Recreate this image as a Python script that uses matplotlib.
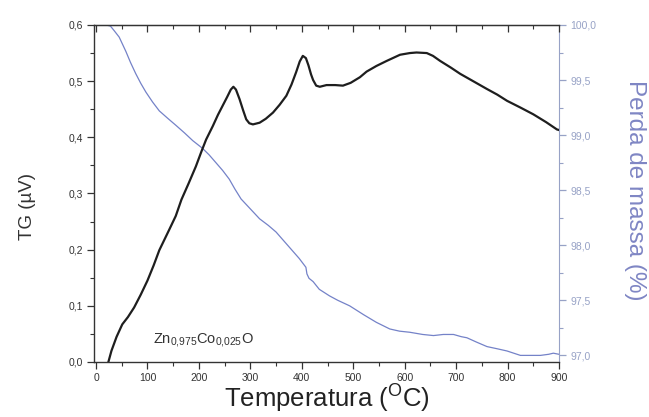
import matplotlib
matplotlib.use('Agg')
import matplotlib.pyplot as plt
from matplotlib.ticker import MultipleLocator, FuncFormatter

plt.rcParams['font.family'] = ['Liberation Sans', 'DejaVu Sans']
plt.rcParams['mathtext.fontset'] = 'custom'
plt.rcParams['mathtext.rm'] = 'Liberation Sans'
plt.rcParams['mathtext.it'] = 'Liberation Sans'

# sinal TG (uV) em funcao da temperatura
temp_tg = [24, 30, 40, 51, 62, 74, 87, 100, 112, 123, 142, 155, 166, 180, 194,
           205, 214, 227, 237, 246, 255, 262, 267, 272, 279, 286, 292, 298, 305,
           318, 330, 344, 357, 370, 380, 389, 396, 402, 408, 413, 418, 422, 428,
           435, 448, 465, 480, 495, 513, 526, 545, 565, 591, 610, 623, 643, 655,
           669, 690, 708, 735, 760, 780, 799, 825, 850, 875, 896, 900]
tg = [0.0, 0.02, 0.045, 0.067, 0.08, 0.097, 0.12, 0.145, 0.172, 0.199, 0.235,
      0.26, 0.289, 0.318, 0.348, 0.375, 0.396, 0.42, 0.44, 0.456, 0.472, 0.485,
      0.49, 0.485, 0.468, 0.448, 0.432, 0.425, 0.423, 0.426, 0.433, 0.444, 0.458,
      0.474, 0.494, 0.516, 0.535, 0.545, 0.541, 0.528, 0.512, 0.502, 0.492, 0.49,
      0.493, 0.493, 0.492, 0.497, 0.507, 0.517, 0.527, 0.536, 0.547, 0.55, 0.551,
      0.55, 0.545, 0.536, 0.524, 0.513, 0.499, 0.486, 0.476, 0.465, 0.453, 0.441,
      0.427, 0.414, 0.413]

# perda de massa (%)
temp_m = [0, 20, 28, 35, 45, 52, 58, 67, 77, 87, 97, 110, 123, 140, 155, 172, 188,
          207, 220, 233, 246, 259, 270, 282, 300, 318, 335, 350, 365, 380, 395,
          408, 410, 414, 422, 434, 454, 470, 493, 520, 545, 571, 590, 610, 635,
          656, 675, 695, 710, 721, 740, 760, 780, 799, 812, 825, 845, 864, 880,
          889, 900]
massa = [100.0, 100.0, 99.99, 99.95, 99.89, 99.82, 99.76, 99.66, 99.56, 99.47,
         99.39, 99.30, 99.22, 99.15, 99.09, 99.02, 98.95, 98.88, 98.82, 98.75,
         98.68, 98.60, 98.51, 98.42, 98.33, 98.24, 98.18, 98.12, 98.04, 97.96,
         97.88, 97.80, 97.74, 97.70, 97.67, 97.60, 97.54, 97.50, 97.45, 97.37,
         97.30, 97.24, 97.22, 97.21, 97.19, 97.18, 97.19, 97.19, 97.17, 97.16,
         97.12, 97.08, 97.06, 97.04, 97.02, 97.00, 97.00, 97.00, 97.01, 97.02,
         97.01]

blue = '#7482c8'
axis_blue = '#97a2c6'

fig = plt.figure(figsize=(6.49, 4.17), dpi=100)
ax = fig.add_axes([0.1448, 0.1319, 0.7165, 0.8082])
ax2 = ax.twinx()

ax2.plot(temp_m, massa, color=blue, lw=0.9)
ax.plot(temp_tg, tg, color='#1e1e1e', lw=1.6, zorder=3)
ax.set_zorder(ax2.get_zorder() + 1)
ax.patch.set_visible(False)

ax.set_xlim(-4, 900)
ax.set_ylim(0, 0.6)
ax2.set_ylim(96.94, 100.0)

comma = lambda fmt: FuncFormatter(lambda v, p: (fmt % v).replace('.', ','))

ax.xaxis.set_major_locator(MultipleLocator(100))
ax.xaxis.set_minor_locator(MultipleLocator(50))
ax.yaxis.set_major_locator(MultipleLocator(0.1))
ax.yaxis.set_minor_locator(MultipleLocator(0.05))
ax.yaxis.set_major_formatter(comma('%.1f'))
ax2.yaxis.set_major_locator(MultipleLocator(0.5))
ax2.yaxis.set_minor_locator(MultipleLocator(0.25))
ax2.yaxis.set_major_formatter(comma('%.1f'))

ax.tick_params(which='major', direction='out', length=5, width=0.9,
               labelsize=7.5, labelcolor='#333333', color='#333333', pad=3)
ax.tick_params(which='minor', direction='out', length=3, width=0.8, color='#333333')
ax2.tick_params(which='major', direction='out', length=5, width=0.9,
                labelsize=7.5, labelcolor=axis_blue, color=axis_blue, pad=3)
ax2.tick_params(which='minor', direction='out', length=3, width=0.8, color=axis_blue)

top = ax.secondary_xaxis('top')
top.xaxis.set_major_locator(MultipleLocator(100))
top.xaxis.set_minor_locator(MultipleLocator(50))
top.tick_params(which='major', direction='in', length=5, width=0.9, labeltop=False, color='#333333')
top.tick_params(which='minor', direction='in', length=3, width=0.8, color='#333333')

for s in ['left', 'bottom', 'top']:
    ax.spines[s].set_color('#333333')
    ax.spines[s].set_linewidth(1.0)
top.spines['top'].set_color('#333333')
ax.spines['right'].set_visible(False)
ax2.spines['right'].set_color(axis_blue)
for s in ['left', 'bottom', 'top']:
    ax2.spines[s].set_visible(False)

ax.set_xlabel('Temperatura ($^{\\mathrm{O}}$C)', fontsize=18.5, color='#222222', labelpad=0)
ax.set_ylabel('TG (\u00b5V)', fontsize=13.5, color='#333333')
ax.yaxis.set_label_coords(-0.125, 0.46)
ax2.set_ylabel('Perda de massa (%)', fontsize=17.5, color='#7f86c4', rotation=-90,
               va='center')
ax2.yaxis.set_label_coords(1.163, 0.51)

ax.text(110, 0.034, 'Zn$_{0{,}975}$Co$_{0{,}025}$O', fontsize=10.5,
        color='#333333', ha='left', va='baseline')

fig.savefig('out.png', dpi=100)
